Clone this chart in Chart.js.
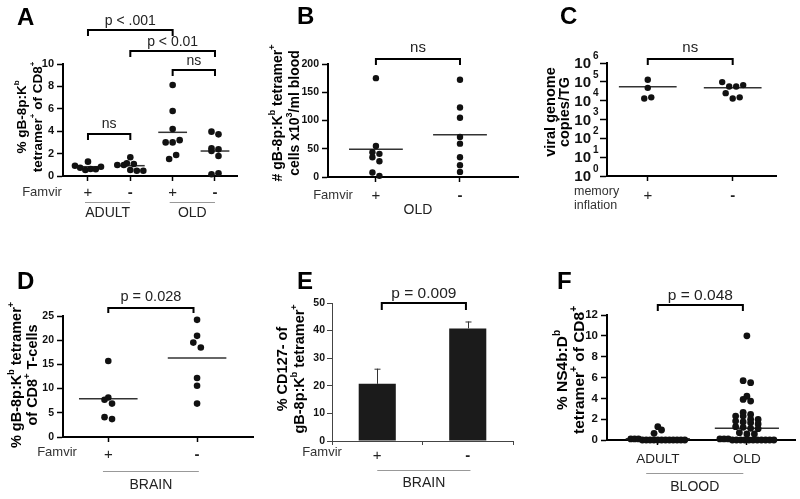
<!DOCTYPE html>
<html>
<head>
<meta charset="utf-8">
<title>Tetramer panels</title>
<script src="https://cdn.jsdelivr.net/npm/chart.js@4.4.1/dist/chart.umd.min.js"></script>
<style>
  html, body { margin: 0; padding: 0; background: #fff; }
  #fig { position: relative; width: 800px; height: 499px; overflow: hidden; }
  #fig canvas { position: absolute; left: 0; top: 0; }
</style>
</head>
<body>
<div id="fig">
  <canvas id="chartA" width="800" height="499"></canvas>
  <canvas id="chartB" width="800" height="499"></canvas>
  <canvas id="chartC" width="800" height="499"></canvas>
  <canvas id="chartD" width="800" height="499"></canvas>
  <canvas id="chartE" width="800" height="499"></canvas>
  <canvas id="chartF" width="800" height="499"></canvas>
</div>
<script>
"use strict";

var FONT = "'Liberation Sans', Arial, Helvetica, sans-serif";

// ---- data ----

// A: % gB-8p:Kb tetramer+ of CD8+
var aLabels = ["+", "-", "+", "-"];
var aAdultPlus = [0.92, 1.28, 0.74, 0.54, 0.63, 0.6, 0.83];
var aAdultMinus = [0.98, 1.13, 1.07, 0.98, 1.67, 0.54, 0.47, 0.47];
var aOldPlus = [8.13, 5.8, 4.2, 3.0, 3.0, 3.2, 1.52, 1.88];
var aOldMinus = [3.96, 3.72, 2.23, 2.47, 2.38, 1.79, 0.15, 0.24];
var aMedians = [0.83, 0.92, 3.9, 2.23];

// B: tetramer+ cells x10^3 / ml blood
var bLabels = ["+", "-"];
var bPlus = [175, 55, 44, 41, 35, 28, 8, 2];
var bMinus = [172, 123, 105, 71, 59, 35, 21, 9];
var bMeans = [49, 75];

// C: viral genome copies / TG
var cLabels = ["+", "-"];
var cPlus = [130000, 48000, 13000, 15000];
var cMinus = [97000, 57000, 57000, 67000, 25000, 13000, 15000];
var cMeans = [55000, 48000];
var cTicks = [1, 10, 100, 1000, 10000, 100000, 1000000];

// D: brain, % tetramer+ of CD8+ T-cells
var dLabels = ["+", "-"];
var dPlus = [15.7, 8.15, 7.7, 6.9, 4.1, 3.7];
var dMinus = [24.2, 20.9, 19.5, 18.5, 12.2, 10.6, 6.9];
var dMeans = [7.9, 16.3];

// E: % CD127- of tetramer+
var eLabels = ["+", "-"];
var eMeans = [20.7, 40.8];
var eErrors = [5.5, 2.5];

// F: % NS4b:Db tetramer+ of CD8+
var fLabels = ["ADULT", "OLD"];
var fAdult = [0.64, 1.28, 0.96, 0.1, 0.1, 0.1, 0, 0, 0, 0, 0, 0, 0, 0, 0, 0, 0, 0];
var fOld = [10.0, 5.7, 5.5, 4.2, 3.9, 3.74, 2.66, 2.46, 2.3, 2.3, 2.0, 1.98, 1.82,
  1.73, 1.66, 1.54, 1.28, 1.22, 1.12, 1.09, 0.7, 0.58, 0.58, 0.1, 0.1, 0.1,
  0, 0, 0, 0, 0, 0, 0, 0, 0, 0, 0];
var fMedians = [0.13, 1.12];

// ---- layout (plot areas in page pixels) ----

var LA = { l: 63, t: 64, r: 237, b: 176, xmin: -0.59, xmax: 3.52, ymin: 0, ymax: 10 };
var LB = { l: 328, t: 64, r: 518, b: 177, xmin: -0.57, xmax: 1.69, ymin: 0, ymax: 200 };
var LC = { l: 607, t: 63, r: 776, b: 176, xmin: -0.48, xmax: 1.51, ymin: 0, ymax: 6, log: true };
var LD = { l: 63, t: 316, r: 253, b: 437, xmin: -0.51, xmax: 1.63, ymin: 0, ymax: 25 };
var LE = { l: 332, t: 303, r: 513, b: 441 };
var LF = { l: 607, t: 315, r: 795, b: 440, xmin: -0.57, xmax: 1.54, ymin: 0, ymax: 12 };

function pad(L) {
  return { left: L.l - 40, top: L.t, right: 800 - L.r, bottom: 499 - L.b - 40 };
}

// spread points of one group sideways, GraphPad style (rows of close values)
function spread(vals, L, sw) {
  var ppu = (L.b - L.t) / (L.ymax - L.ymin);
  var ppc = (L.r - L.l) / (L.xmax - L.xmin);
  var pos = function (v) { return (L.log ? Math.log10(v) : v) * ppu; };
  var idx = vals.map(function (v, i) { return i; });
  idx.sort(function (p, q) { return vals[p] - vals[q]; });
  var offs = vals.map(function () { return 0; });
  var row = [];
  function flush() {
    var n = row.length;
    var step = n > 1 ? Math.min(sw.step, (2 * sw.half) / (n - 1)) : 0;
    row.sort(function (p, q) { return p - q; });
    row.forEach(function (k, j) { offs[k] = ((j - (n - 1) / 2) * step) / ppc; });
    row = [];
  }
  idx.forEach(function (k) {
    if (row.length && pos(vals[k]) - pos(vals[row[0]]) > sw.row) flush();
    row.push(k);
  });
  flush();
  return offs;
}

// text with ^x superscripts, optionally rotated
function rich(ctx, str, cx, cy, size, weight, vertical) {
  var parts = [];
  for (var i = 0; i < str.length; i++) {
    if (str[i] === "^") {
      parts.push({ t: str[i + 1], sup: true });
      i++;
    } else if (parts.length && !parts[parts.length - 1].sup) {
      parts[parts.length - 1].t += str[i];
    } else {
      parts.push({ t: str[i], sup: false });
    }
  }
  var fN = weight + " " + size + "px " + FONT;
  var fS = weight + " " + Math.round(size * 0.62) + "px " + FONT;
  var w = 0;
  parts.forEach(function (p) {
    ctx.font = p.sup ? fS : fN;
    p.w = ctx.measureText(p.t).width;
    w += p.w;
  });
  ctx.save();
  ctx.translate(cx, cy);
  if (vertical) ctx.rotate(-Math.PI / 2);
  ctx.textAlign = "left";
  ctx.textBaseline = "middle";
  var x = -w / 2;
  parts.forEach(function (p) {
    ctx.font = p.sup ? fS : fN;
    ctx.fillText(p.t, x, p.sup ? -size * 0.36 : 0);
    x += p.w;
  });
  ctx.restore();
}

function decor(cfg) {
  return {
    id: "decor",
    afterDraw: function (chart) {
      var ctx = chart.ctx;
      var xs = chart.scales.x;
      ctx.save();
      ctx.fillStyle = "#000";
      ctx.font = "bold 24px " + FONT;
      ctx.textAlign = "left";
      ctx.textBaseline = "alphabetic";
      ctx.fillText(cfg.letter[0], cfg.letter[1], cfg.letter[2]);

      cfg.title.forEach(function (line, i) {
        rich(ctx, line, cfg.tx[i], cfg.ty, cfg.tsize, "bold", true);
      });

      // significance brackets
      ctx.strokeStyle = "#000";
      ctx.lineWidth = 2;
      (cfg.brackets || []).forEach(function (b) {
        var x1 = xs.getPixelForValue(b.a), x2 = xs.getPixelForValue(b.b);
        ctx.beginPath();
        ctx.moveTo(x1, b.y + b.drop);
        ctx.lineTo(x1, b.y);
        ctx.lineTo(x2, b.y);
        ctx.lineTo(x2, b.y + b.drop);
        ctx.stroke();
        ctx.fillStyle = "#222";
        ctx.font = cfg.bsize + "px " + FONT;
        ctx.textAlign = "center";
        ctx.textBaseline = "middle";
        ctx.fillText(b.text, (x1 + x2) / 2, b.ty);
      });

      // group lines and labels under the axis
      (cfg.groups || []).forEach(function (g) {
        var x1 = xs.getPixelForValue(g.a), x2 = xs.getPixelForValue(g.b);
        if (g.y) {
          ctx.strokeStyle = "#999";
          ctx.lineWidth = 1;
          ctx.beginPath();
          ctx.moveTo(x1, g.y + 0.5);
          ctx.lineTo(x2, g.y + 0.5);
          ctx.stroke();
        }
        ctx.fillStyle = "#222";
        ctx.font = "14px " + FONT;
        ctx.textAlign = "center";
        ctx.textBaseline = "middle";
        ctx.fillText(g.text, (x1 + x2) / 2, g.ty);
      });

      (cfg.notes || []).forEach(function (n) {
        ctx.fillStyle = "#333";
        ctx.font = n.size + "px " + FONT;
        ctx.textAlign = n.align;
        ctx.textBaseline = "middle";
        ctx.fillText(n.text, n.x, n.y);
      });

      // 10^n tick labels for the log axis
      if (cfg.logTicks) {
        var ys = chart.scales.y;
        ys.ticks.forEach(function (t) {
          var py = ys.getPixelForValue(t.value);
          var ex = String(Math.round(Math.log10(t.value)));
          ctx.fillStyle = "#111";
          ctx.textBaseline = "middle";
          ctx.textAlign = "right";
          ctx.font = "bold 15px " + FONT;
          ctx.fillText("10", cfg.logTicks.x, py + 1);
          ctx.textAlign = "left";
          ctx.font = "bold 10px " + FONT;
          ctx.fillText(ex, cfg.logTicks.x + 2, py - 7);
        });
      }
      ctx.restore();
    }
  };
}

var errorBars = {
  id: "errorBars",
  afterDatasetsDraw: function (chart) {
    var ctx = chart.ctx, ys = chart.scales.y;
    ctx.save();
    ctx.strokeStyle = "#333";
    ctx.lineWidth = 1;
    chart.getDatasetMeta(0).data.forEach(function (bar, i) {
      var top = ys.getPixelForValue(eMeans[i] + eErrors[i]);
      var x = Math.round(bar.x) + 0.5;
      ctx.beginPath();
      ctx.moveTo(x, bar.y);
      ctx.lineTo(x, top);
      ctx.moveTo(x - 3, top + 0.5);
      ctx.lineTo(x + 3, top + 0.5);
      ctx.stroke();
    });
    ctx.restore();
  }
};

function xLinear(L, labels, size, padding) {
  return {
    type: "linear",
    min: L.xmin,
    max: L.xmax,
    afterFit: function (s) { s.height = 40; },
    border: { color: "#000", width: 2 },
    grid: { drawOnChartArea: false, tickLength: 5, tickColor: "#000", tickWidth: 1.5 },
    ticks: {
      stepSize: 1,
      includeBounds: false,
      autoSkip: false,
      maxRotation: 0,
      padding: padding,
      color: "#222",
      font: function (c) {
        var dash = c.tick && c.tick.label === "-";
        return { size: size, weight: dash ? "bold" : "normal" };
      },
      callback: function (v) { return labels[v]; }
    }
  };
}

function yLinear(L, step, size) {
  return {
    type: "linear",
    min: L.ymin,
    max: L.ymax,
    afterFit: function (s) { s.width = 40; },
    border: { color: "#000", width: 2 },
    grid: { drawOnChartArea: false, tickLength: 6, tickColor: "#000", tickWidth: 1.5 },
    ticks: { stepSize: step, padding: 3, color: "#111", font: { size: size, weight: "bold" } }
  };
}

function scatterChart(id, L, groups, centres, half, labels, yAxis, sw, deco) {
  var datasets = [];
  var pts = [];
  groups.forEach(function (vals, i) {
    var offs = spread(vals, L, sw);
    vals.forEach(function (v, j) { pts.push({ x: i + offs[j], y: v }); });
  });
  datasets.push({
    type: "scatter",
    data: pts,
    pointBackgroundColor: "#111",
    pointBorderWidth: 0,
    pointRadius: sw.r,
    clip: false
  });
  centres.forEach(function (m, i) {
    datasets.push({
      type: "line",
      data: [{ x: i - half, y: m }, { x: i + half, y: m }],
      borderColor: "#333",
      borderWidth: 1.5,
      pointRadius: 0,
      showLine: true,
      clip: false
    });
  });
  return new Chart(document.getElementById(id), {
    type: "scatter",
    data: { datasets: datasets },
    options: {
      responsive: false,
      animation: false,
      layout: { padding: pad(L) },
      scales: { x: xLinear(L, labels, sw.xsize, sw.xpad), y: yAxis },
      plugins: { legend: { display: false }, tooltip: { enabled: false } }
    },
    plugins: [decor(deco)]
  });
}

// chart A
scatterChart("chartA", LA, [aAdultPlus, aAdultMinus, aOldPlus, aOldMinus], aMedians, 0.34,
  aLabels, yLinear(LA, 2, 11),
  { r: 3.3, row: 6, step: 7, half: 13, xsize: 15, xpad: 3 },
  {
    letter: ["A", 17, 25],
    title: ["% gB-8p:K^b", "tetramer^+ of CD8^+"], tx: [22, 38], ty: 117, tsize: 13.5,
    bsize: 14,
    brackets: [
      { a: 0, b: 2, y: 30, drop: 6, text: "p < .001", ty: 21 },
      { a: 1, b: 3, y: 51, drop: 6, text: "p < 0.01", ty: 42 },
      { a: 2, b: 3, y: 70, drop: 6, text: "ns", ty: 61 },
      { a: 0, b: 1, y: 134, drop: 6, text: "ns", ty: 124 }
    ],
    groups: [
      { a: -0.07, b: 1.0, y: 202, ty: 213, text: "ADULT" },
      { a: 1.93, b: 3.0, y: 202, ty: 213, text: "OLD" }
    ],
    notes: [{ text: "Famvir", x: 42, y: 192, size: 13, align: "center" }]
  });

// chart B
scatterChart("chartB", LB, [bPlus, bMinus], bMeans, 0.32,
  bLabels, yLinear(LB, 50, 10.5),
  { r: 3.2, row: 6, step: 7, half: 13, xsize: 15, xpad: 5 },
  {
    letter: ["B", 297, 24],
    title: ["# gB-8p:K^b tetramer^+", "cells x10^3/ml blood"], tx: [278, 295], ty: 113, tsize: 14,
    bsize: 15,
    brackets: [{ a: 0, b: 1, y: 59, drop: 6, text: "ns", ty: 48 }],
    groups: [{ a: 0, b: 1, y: 0, ty: 210, text: "OLD" }],
    notes: [{ text: "Famvir", x: 333, y: 195, size: 13, align: "center" }]
  });

// chart C
scatterChart("chartC", LC, [cPlus, cMinus], cMeans, 0.34,
  cLabels,
  {
    type: "logarithmic",
    min: 1,
    max: 1000000,
    afterFit: function (s) { s.width = 40; },
    afterBuildTicks: function (s) {
      s.ticks = cTicks.map(function (v) { return { value: v }; });
    },
    border: { color: "#000", width: 2 },
    grid: { drawOnChartArea: false, tickLength: 7, tickColor: "#000", tickWidth: 1.5 },
    ticks: { callback: function () { return ""; } }
  },
  { r: 3.2, row: 6, step: 7, half: 13, xsize: 15, xpad: 6 },
  {
    letter: ["C", 560, 24],
    title: ["viral genome", "copies/TG"], tx: [551, 565], ty: 112, tsize: 14.5,
    bsize: 15,
    brackets: [{ a: 0, b: 1, y: 59, drop: 6, text: "ns", ty: 48 }],
    notes: [
      { text: "memory", x: 574, y: 192, size: 12.5, align: "left" },
      { text: "inflation", x: 574, y: 206, size: 12.5, align: "left" }
    ],
    logTicks: { x: 591 }
  });

// chart D
scatterChart("chartD", LD, [dPlus, dMinus], dMeans, 0.33,
  dLabels, yLinear(LD, 5, 10.5),
  { r: 3.3, row: 6, step: 7.5, half: 14, xsize: 15, xpad: 4 },
  {
    letter: ["D", 17, 289],
    title: ["% gB-8p:K^b tetramer^+", "of CD8^+ T-cells"], tx: [17, 33], ty: 375, tsize: 14.5,
    bsize: 14.5,
    brackets: [{ a: 0, b: 0.96, y: 308, drop: 5, text: "p = 0.028", ty: 297 }],
    groups: [{ a: -0.06, b: 1.02, y: 471, ty: 485, text: "BRAIN" }],
    notes: [{ text: "Famvir", x: 57, y: 452, size: 13, align: "center" }]
  });

// chart E
new Chart(document.getElementById("chartE"), {
  type: "bar",
  data: {
    labels: eLabels,
    datasets: [
      {
        data: eMeans,
        backgroundColor: "#1b1b1b",
        borderWidth: 0,
        categoryPercentage: 1,
        barPercentage: 0.41
      }
    ]
  },
  options: {
    responsive: false,
    animation: false,
    layout: { padding: pad(LE) },
    scales: {
      x: {
        afterFit: function (s) { s.height = 40; },
        border: { color: "#444", width: 1 },
        grid: { drawOnChartArea: false, offset: true, tickLength: 4, tickColor: "#444" },
        ticks: {
          padding: 2,
          color: "#222",
          font: function (c) {
            var dash = c.tick && c.tick.label === "-";
            return { size: 15, weight: dash ? "bold" : "normal" };
          }
        }
      },
      y: {
        min: 0,
        max: 50,
        afterFit: function (s) { s.width = 40; },
        border: { color: "#444", width: 1 },
        grid: { drawOnChartArea: false, tickLength: 5, tickColor: "#444" },
        ticks: { stepSize: 10, padding: 2, color: "#111", font: { size: 10.5, weight: "bold" } }
      }
    },
    plugins: { legend: { display: false }, tooltip: { enabled: false } }
  },
  plugins: [
    errorBars,
    decor({
      letter: ["E", 297, 289],
      title: ["% CD127- of", "gB-8p:K^b tetramer^+"], tx: [283, 300], ty: 369, tsize: 14.5,
      bsize: 15.5,
      brackets: [{ a: 0.05, b: 0.98, y: 303, drop: 7, text: "p = 0.009", ty: 294 }],
      groups: [{ a: 0, b: 1.03, y: 470, ty: 483, text: "BRAIN" }],
      notes: [{ text: "Famvir", x: 322, y: 452, size: 13, align: "center" }]
    })
  ]
});

// chart F
scatterChart("chartF", LF, [fAdult, fOld], fMedians, 0.36,
  fLabels, yLinear(LF, 2, 11.5),
  { r: 3.4, row: 4, step: 7.5, half: 27, xsize: 13.5, xpad: 6 },
  {
    letter: ["F", 557, 289],
    title: ["% NS4b:D^b", "tetramer^+ of CD8^+"], tx: [563, 580], ty: 370, tsize: 15.5,
    bsize: 15.5,
    brackets: [{ a: 0, b: 0.955, y: 305, drop: 6, text: "p = 0.048", ty: 296 }],
    groups: [{ a: -0.13, b: 0.96, y: 473, ty: 487, text: "BLOOD" }]
  });
</script>
</body>
</html>
